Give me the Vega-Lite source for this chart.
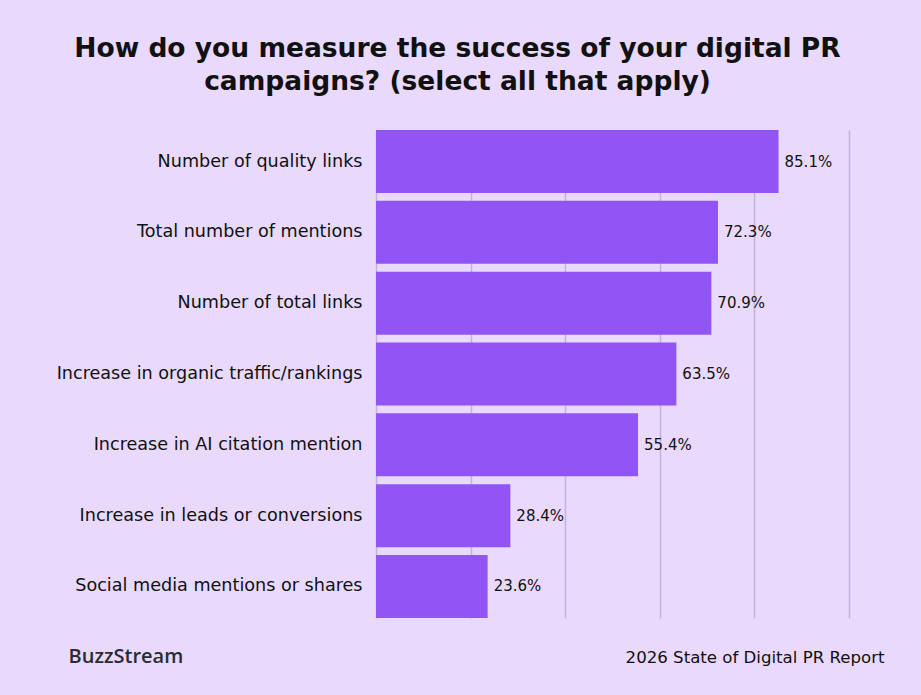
{
  "$schema": "https://vega.github.io/schema/vega-lite/v6.json",
  "width": 473,
  "height": 488,
  "autosize": {"type": "none"},
  "padding": {"left": 376, "top": 130, "right": 72, "bottom": 77},
  "background": "#e8d9fd",
  "title": {
    "text": ["How do you measure the success of your digital PR", "campaigns? (select all that apply)"],
    "anchor": "middle",
    "frame": "group",
    "dx": -155,
    "offset": 35,
    "font": "DejaVu Sans",
    "fontSize": 26.5,
    "fontWeight": "bold",
    "color": "#111111",
    "lineHeight": 33
  },
  "config": {
    "view": {"stroke": null},
    "font": "DejaVu Sans"
  },
  "data": {
    "values": [
      {"metric": "Number of quality links", "pct": 85.1},
      {"metric": "Total number of mentions", "pct": 72.3},
      {"metric": "Number of total links", "pct": 70.9},
      {"metric": "Increase in organic traffic/rankings", "pct": 63.5},
      {"metric": "Increase in AI citation mention", "pct": 55.4},
      {"metric": "Increase in leads or conversions", "pct": 28.4},
      {"metric": "Social media mentions or shares", "pct": 23.6}
    ]
  },
  "transform": [
    {"calculate": "format(datum.pct, '.1f') + '%'", "as": "label"}
  ],
  "encoding": {
    "y": {
      "field": "metric",
      "type": "nominal",
      "sort": "-x",
      "scale": {"paddingInner": 0.11, "paddingOuter": 0},
      "axis": {
        "title": "BuzzStream",
        "titleAngle": 0,
        "titleAlign": "left",
        "titleBaseline": "alphabetic",
        "titleX": -308,
        "titleY": 532,
        "titleFont": "Open Sans",
        "titleFontSize": 20,
        "titleFontWeight": 600,
        "titleColor": "#2b2b33",
        "labelFont": "DejaVu Sans",
        "labelFontSize": 17.6,
        "labelColor": "#111111",
        "labelPadding": 14,
        "ticks": false,
        "domain": false,
        "labelLimit": 400
      }
    },
    "x": {
      "field": "pct",
      "type": "quantitative",
      "scale": {"domain": [0, 100]},
      "axis": {
        "values": [0, 20, 40, 60, 80, 100],
        "labels": false,
        "ticks": false,
        "domain": false,
        "grid": true,
        "gridColor": "#c2b3dc",
        "gridWidth": 1.5,
        "title": "2026 State of Digital PR Report",
        "titleAnchor": "end",
        "titleAlign": "right",
        "titleBaseline": "alphabetic",
        "titleX": 508,
        "titleY": 44,
        "titleFont": "DejaVu Sans",
        "titleFontSize": 16.6,
        "titleFontWeight": "normal",
        "titleColor": "#111111"
      }
    }
  },
  "layer": [
    {
      "mark": {"type": "bar", "color": "#9155f6"}
    },
    {
      "mark": {"type": "text", "align": "left", "dx": 6, "fontSize": 15, "fontWeight": 500, "color": "#111111", "font": "DejaVu Sans"},
      "encoding": {
        "text": {"field": "label", "type": "nominal"}
      }
    }
  ]
}
